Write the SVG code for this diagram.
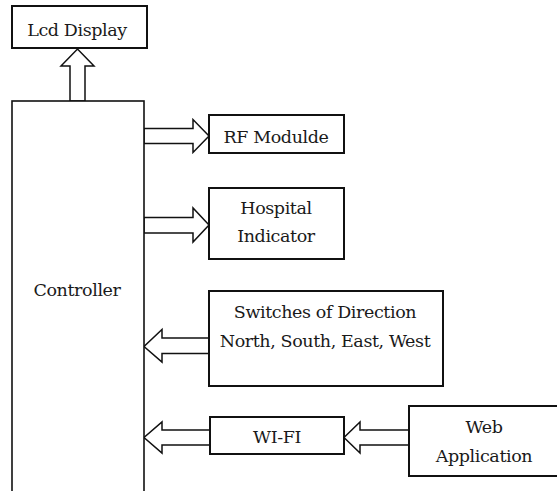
<svg xmlns="http://www.w3.org/2000/svg" width="557" height="491" viewBox="0 0 557 491">
  <style>
    .box { fill: #fff; stroke: #111; stroke-width: 2; }
    .ctrl { fill: #fff; stroke: #111; stroke-width: 1.6; }
    .arrow { fill: #fff; stroke: #111; stroke-width: 1.5; stroke-linejoin: miter; }
    .lbl { font-family: 'DejaVu Serif', serif; font-size: 17.5px; letter-spacing: -0.4px; fill: #1a1a1a; text-anchor: middle; }
  </style>
  <rect width="557" height="491" fill="#fff"/>

  <!-- block arrows -->
  <g id="connectors">
    <!-- controller up to LCD -->
    <polygon class="arrow" points="70,101 70,66 61,66 77.5,49 94,66 85,66 85,101"/>
    <!-- controller to RF module -->
    <polygon class="arrow" points="144,128.5 193,128.5 193,119.5 209,136 193,152.5 193,143.5 144,143.5"/>
    <!-- controller to hospital indicator -->
    <polygon class="arrow" points="144,217.5 193,217.5 193,208 209,225 193,242 193,233 144,233"/>
    <!-- direction switches to controller -->
    <polygon class="arrow" points="209,338 162,338 162,329.5 144,346.5 162,362 162,353.5 209,353.5"/>
    <!-- WI-FI to controller -->
    <polygon class="arrow" points="210,430 162,430 162,422 144,437.5 162,453 162,445 210,445"/>
    <!-- web application to WI-FI -->
    <polygon class="arrow" points="409,430 360,430 360,422 344,437.5 360,453 360,445 409,445"/>
  </g>

  <g id="controller">
    <rect class="ctrl" x="12" y="101" width="132" height="400"/>
    <text class="lbl" x="77" y="296">Controller</text>
  </g>

  <g id="lcd-display">
    <rect class="box" x="12" y="6" width="135" height="42"/>
    <text class="lbl" x="77" y="36">Lcd Display</text>
  </g>

  <g id="rf-module">
    <rect class="box" x="209" y="115" width="135" height="38"/>
    <text class="lbl" x="276" y="143">RF Modulde</text>
  </g>

  <g id="hospital-indicator">
    <rect class="box" x="209" y="188" width="135" height="71"/>
    <text class="lbl" x="276" y="214">Hospital</text>
    <text class="lbl" x="276" y="242">Indicator</text>
  </g>

  <g id="direction-switches">
    <rect class="box" x="209" y="291" width="234" height="95"/>
    <text class="lbl" x="325" y="318">Switches of Direction</text>
    <text class="lbl" x="325" y="347">North, South, East, West</text>
  </g>

  <g id="wifi">
    <rect class="box" x="210" y="417" width="134" height="37"/>
    <text class="lbl" x="277" y="443">WI-FI</text>
  </g>

  <g id="web-application">
    <rect class="box" x="409" y="406" width="160" height="70"/>
    <text class="lbl" x="484" y="433">Web</text>
    <text class="lbl" x="484" y="462">Application</text>
  </g>
</svg>
